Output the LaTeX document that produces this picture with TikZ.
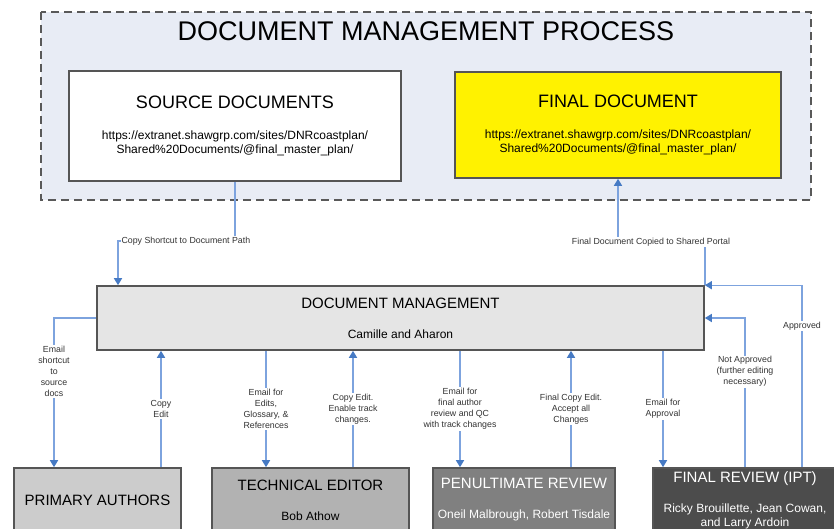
\documentclass[tikz,border=0pt]{standalone}
\usepackage{fontspec}
\setmainfont{Liberation Sans}
\usetikzlibrary{arrows.meta}
\definecolor{panel}{RGB}{232,236,245}
\definecolor{link}{RGB}{125,163,222}
\definecolor{tip}{RGB}{70,122,196}
\definecolor{rim}{RGB}{85,85,85}

\tikzset{
  box/.style={draw=rim, line width=1.6pt, align=center, inner sep=0pt, font=\fontsize{12}{14}\selectfont},
  conn/.style={draw=link, line width=1.4pt, -{Triangle[width=8pt,length=7pt,color=tip]}},
  lbl/.style={fill=white, align=center, inner sep=1pt, text=black!80, font=\fontsize{8.8}{11}\selectfont},
}

\begin{document}
\begin{tikzpicture}[x=1pt,y=-1pt]
\useasboundingbox (0,0) rectangle (834,529);
\clip (0,0) rectangle (834,529);
\fill[white] (0,0) rectangle (834,529);
\draw[dash pattern=on 8pt off 5pt, draw=black!65, line width=1.1pt, fill=panel] (41,12) rectangle (811,200);
\node[font=\fontsize{27}{30}\selectfont] (title) at (426,31) {DOCUMENT MANAGEMENT PROCESS};

\node[box, fill=white, minimum width=332pt, minimum height=110pt] (src) at (235,126)
  {{\fontsize{18}{18}\selectfont SOURCE DOCUMENTS}\\[16.5pt]https://extranet.shawgrp.com/sites/DNRcoastplan/\\Shared\%20Documents/@final\_master\_plan/};
\node[box, fill=yellow, minimum width=326pt, minimum height=106pt] (fin) at (618,125)
  {{\fontsize{18}{18}\selectfont FINAL DOCUMENT}\\[16.5pt]https://extranet.shawgrp.com/sites/DNRcoastplan/\\Shared\%20Documents/@final\_master\_plan/};

\node[box, fill=black!10, minimum width=607pt, minimum height=64pt] (dm) at (400.5,318)
  {{\fontsize{15}{15}\selectfont DOCUMENT MANAGEMENT}\\[16pt]Camille and Aharon};

\node[box, fill=black!20, minimum width=167pt, minimum height=64pt] (pa) at (97.5,500)
  {{\fontsize{15}{15}\selectfont PRIMARY AUTHORS}};
\node[box, fill=black!30, minimum width=197pt, minimum height=64pt] (te) at (310.5,500)
  {{\fontsize{15}{15}\selectfont TECHNICAL EDITOR}\\[16pt]Bob Athow};
\node[box, fill=black!50, text=white, minimum width=182pt, minimum height=64pt] (pr) at (524,500)
  {{\fontsize{15}{15}\selectfont PENULTIMATE REVIEW}\\[16pt]Oneil Malbrough, Robert Tisdale};
\node[box, fill=black!70, text=white, minimum width=184pt, minimum height=64pt] (fr) at (745,500)
  {{\fontsize{15}{15}\selectfont FINAL REVIEW (IPT)}\\[16pt]Ricky Brouillette, Jean Cowan,\\and Larry Ardoin};

\coordinate (shortcut) at (118,241);
\coordinate (portal) at (618,242);
\draw[conn] (src.south) |- node[lbl, pos=0.71] {Copy Shortcut to Document Path} (shortcut) -- (shortcut |- dm.north);
\draw[conn] (dm.north east) |- node[lbl, pos=0.81] {Final Document Copied to Shared Portal} (portal) -- (portal |- fin.south);

\draw[conn] (dm.west) -| node[lbl, pos=0.68] {Email\\shortcut\\to\\source\\docs} ([xshift=-43.5pt]pa.north);
\draw[conn] ([xshift=63.5pt]pa.north) -- node[lbl] {Copy\\Edit} ([xshift=63.5pt]pa.north |- dm.south);
\draw[conn] ([xshift=-44.5pt]te.north |- dm.south) -- node[lbl] {Email for\\Edits,\\Glossary, \&\\References} ([xshift=-44.5pt]te.north);
\draw[conn] ([xshift=42.5pt]te.north) -- node[lbl] {Copy Edit.\\Enable track\\changes.} ([xshift=42.5pt]te.north |- dm.south);
\draw[conn] ([xshift=-64pt]pr.north |- dm.south) -- node[lbl] {Email for\\final author\\review and QC\\with track changes} ([xshift=-64pt]pr.north);
\draw[conn] ([xshift=47pt]pr.north) -- node[lbl] {Final Copy Edit.\\Accept all\\Changes} ([xshift=47pt]pr.north |- dm.south);
\draw[conn] ([xshift=-82pt]fr.north |- dm.south) -- node[lbl] {Email for\\Approval} ([xshift=-82pt]fr.north);
\draw[conn] (fr.north) |- node[lbl, pos=0.32] {Not Approved\\(further editing\\necessary)} (dm.east);
\draw[conn] ([xshift=57pt]fr.north) |- node[lbl, pos=0.387] {Approved} (dm.north east);
\end{tikzpicture}
\end{document}
